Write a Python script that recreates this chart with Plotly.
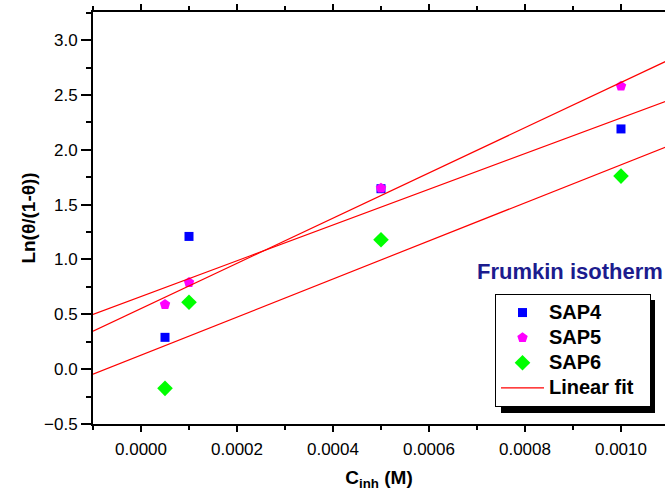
import numpy as np
import plotly.graph_objects as go

# Inhibitor concentration (M) and Ln(theta/(1-theta)) for each inhibitor
c_inh = [0.00005, 0.0001, 0.0005, 0.001]
sap4 = [0.29, 1.21, 1.645, 2.19]
sap5 = [0.59, 0.79, 1.65, 2.58]
sap6 = [-0.175, 0.61, 1.18, 1.76]

series = [
    ("SAP4", sap4, "#0000FF", "square", 9),
    ("SAP5", sap5, "#FF00FF", "pentagon", 11),
    ("SAP6", sap6, "#00FF00", "diamond", 12),
]

x_range = [-0.0001, 0.0010917]
y_range = [-0.5, 3.256]


def legend_label(text, pad=""):
    # larger bold entry text while keeping compact row spacing
    return f'<span style="font-size:20px"><b>{text}</b>{pad}</span>'


fig = go.Figure()

for name, ys, color, symbol, size in series:
    fig.add_trace(go.Scatter(
        x=c_inh, y=ys, mode="markers", name=legend_label(name),
        marker=dict(color=color, symbol=symbol, size=size, line=dict(width=0)),
    ))

# Least-squares line through each series, drawn across the axis span
fit_x = np.array([x_range[0], 0.0012])
for i, (name, ys, _, _, _) in enumerate(series):
    slope, intercept = np.polyfit(c_inh, ys, 1)
    fig.add_trace(go.Scatter(
        x=fit_x, y=slope * fit_x + intercept, mode="lines",
        name=legend_label("Linear fit", "&nbsp;&nbsp;"), legendgroup="fit", showlegend=(i == 0),
        line=dict(color="#FF0000", width=1.2),
    ))

# Legend drop shadow
fig.add_shape(type="rect", xref="paper", yref="paper",
              x0=(501 - 93) / 572, x1=(655 - 93) / 572,
              y0=(424 - 413) / 412, y1=(424 - 300) / 412,
              fillcolor="black", line=dict(width=0), layer="below")

fig.add_annotation(text="<b>Frumkin isotherm</b>", xref="paper", yref="paper",
                   x=(475 - 93) / 572, y=(424 - 271) / 412,
                   xanchor="left", yanchor="middle", showarrow=False,
                   font=dict(family="Liberation Sans, Arial", size=22, color="#1C1C8E"))

fig.update_layout(
    width=665, height=491,
    margin=dict(l=93, r=0, t=12, b=67),
    paper_bgcolor="white", plot_bgcolor="white",
    font=dict(family="Liberation Sans, Arial", color="black"),
    legend=dict(
        x=(495 - 93) / 572, y=(424 - 294) / 412, xanchor="left", yanchor="top",
        bgcolor="white", bordercolor="black", borderwidth=1,
        font=dict(size=17, family="Liberation Sans, Arial", color="black"),
        itemwidth=43, tracegroupgap=0,
    ),
    xaxis=dict(
        range=x_range, showgrid=False, zeroline=False,
        showline=True, linecolor="black", linewidth=2, mirror="ticks",
        ticks="outside", ticklen=6, tickwidth=1.5, tickcolor="black",
        tick0=0, dtick=0.0002, tickformat=".4f",
        tickfont=dict(size=17), ticklabelstandoff=3,
        minor=dict(dtick=0.0001, tick0=0, ticks="outside", ticklen=4, tickwidth=1.5, tickcolor="black"),
        title=dict(text="<b>C<sub>inh</sub> (M)</b>", font=dict(size=19), standoff=14),
    ),
    yaxis=dict(
        range=y_range, showgrid=False, zeroline=False,
        showline=True, linecolor="black", linewidth=2,
        ticks="outside", ticklen=10, tickwidth=1.5, tickcolor="black",
        tick0=0, dtick=0.5, tickformat=".1f",
        tickfont=dict(size=17),
        minor=dict(dtick=0.25, tick0=0, ticks="outside", ticklen=5, tickwidth=1.5, tickcolor="black"),
        title=dict(text="<b>Ln(θ/(1-θ))</b>", font=dict(size=19), standoff=3),
    ),
)

fig.write_html("out.html")
